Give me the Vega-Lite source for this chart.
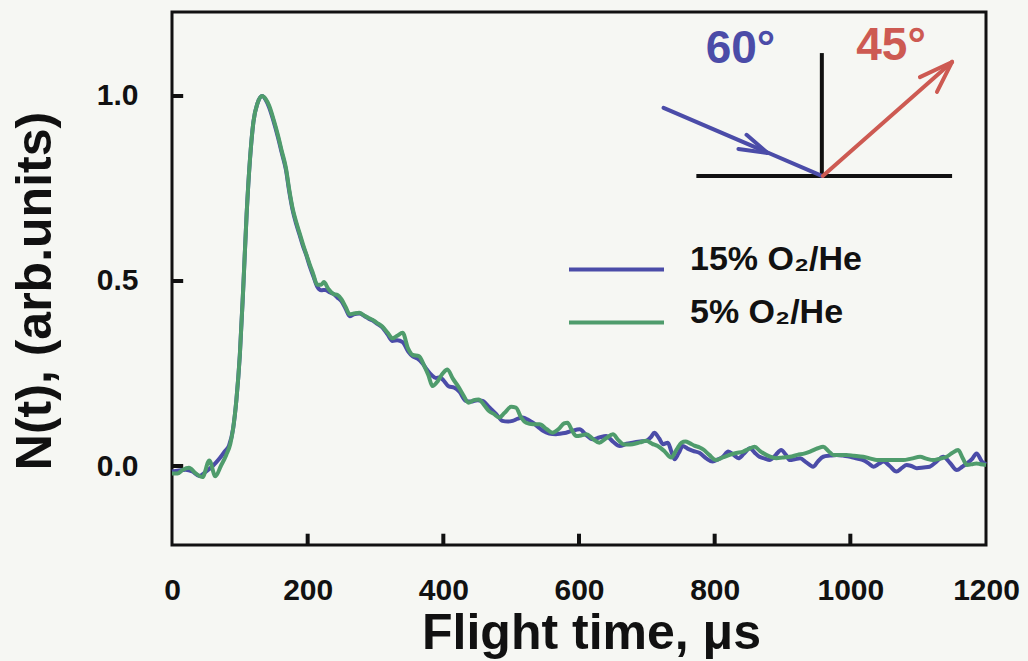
{
  "$schema": "https://vega.github.io/schema/vega-lite/v6.json",
  "autosize": "none",
  "width": 814,
  "height": 533,
  "padding": {"left": 172, "top": 12, "right": 42, "bottom": 116},
  "background": "#f6f7f3",
  "config": {
    "view": {"stroke": "#111111", "strokeWidth": 3},
    "font": "Liberation Sans",
    "axis": {"grid": false, "domain": false, "ticks": false, "labelColor": "#111111", "labelFont": "Liberation Sans", "labelFontWeight": "bold", "titleColor": "#111111", "titleFont": "Liberation Sans", "titleFontWeight": "bold"},
    "legend": {"symbolSize": 9025, "labelFontSize": 34, "labelLimit": 400, "clipHeight": 25, "rowPadding": 13}
  },
  "datasets": {
    "xticks": [{"t":200},{"t":400},{"t":600},{"t":800},{"t":1000}],
    "yticks": [{"v":0},{"v":0.5},{"v":1.0}],
    "blue": [
      {"t":0,"n":-0.015},{"t":10,"n":-0.012},{"t":20,"n":-0.01},{"t":30,"n":-0.015},{"t":40,"n":-0.027},{"t":50,"n":-0.015},{"t":60,"n":0.0},{"t":70,"n":0.02},{"t":78,"n":0.04},{"t":84,"n":0.055},{"t":90,"n":0.1},{"t":95,"n":0.18},{"t":100,"n":0.3},{"t":105,"n":0.48},{"t":110,"n":0.68},{"t":115,"n":0.83},{"t":120,"n":0.93},{"t":126,"n":0.98},{"t":133,"n":1.0},{"t":138,"n":0.99},{"t":143,"n":0.97},{"t":150,"n":0.93},{"t":156,"n":0.89},{"t":162,"n":0.845},{"t":168,"n":0.8},{"t":173,"n":0.74},{"t":178,"n":0.69},{"t":183,"n":0.655},{"t":188,"n":0.625},{"t":193,"n":0.595},{"t":198,"n":0.57},{"t":203,"n":0.54},{"t":208,"n":0.515},{"t":214,"n":0.485},{"t":220,"n":0.475},{"t":226,"n":0.476},{"t":232,"n":0.47},{"t":238,"n":0.465},{"t":244,"n":0.455},{"t":250,"n":0.445},{"t":256,"n":0.425},{"t":262,"n":0.405},{"t":268,"n":0.41},{"t":276,"n":0.412},{"t":284,"n":0.405},{"t":290,"n":0.398},{"t":296,"n":0.393},{"t":302,"n":0.385},{"t":310,"n":0.375},{"t":318,"n":0.355},{"t":325,"n":0.338},{"t":332,"n":0.34},{"t":340,"n":0.335},{"t":348,"n":0.31},{"t":355,"n":0.296},{"t":362,"n":0.29},{"t":369,"n":0.278},{"t":376,"n":0.26},{"t":383,"n":0.245},{"t":389,"n":0.238},{"t":395,"n":0.24},{"t":400,"n":0.232},{"t":408,"n":0.215},{"t":416,"n":0.212},{"t":424,"n":0.2},{"t":433,"n":0.176},{"t":441,"n":0.174},{"t":450,"n":0.178},{"t":458,"n":0.176},{"t":468,"n":0.158},{"t":478,"n":0.14},{"t":487,"n":0.122},{"t":495,"n":0.12},{"t":502,"n":0.122},{"t":510,"n":0.128},{"t":517,"n":0.131},{"t":525,"n":0.125},{"t":532,"n":0.117},{"t":540,"n":0.105},{"t":547,"n":0.095},{"t":556,"n":0.088},{"t":566,"n":0.086},{"t":574,"n":0.088},{"t":581,"n":0.09},{"t":590,"n":0.095},{"t":601,"n":0.099},{"t":610,"n":0.085},{"t":620,"n":0.072},{"t":630,"n":0.077},{"t":640,"n":0.081},{"t":650,"n":0.066},{"t":660,"n":0.054},{"t":670,"n":0.06},{"t":679,"n":0.063},{"t":690,"n":0.066},{"t":699,"n":0.068},{"t":706,"n":0.078},{"t":711,"n":0.09},{"t":718,"n":0.075},{"t":724,"n":0.059},{"t":731,"n":0.063},{"t":736,"n":0.04},{"t":741,"n":0.018},{"t":747,"n":0.035},{"t":753,"n":0.054},{"t":760,"n":0.047},{"t":768,"n":0.041},{"t":778,"n":0.035},{"t":788,"n":0.02},{"t":797,"n":0.012},{"t":805,"n":0.018},{"t":812,"n":0.025},{"t":820,"n":0.039},{"t":828,"n":0.03},{"t":835,"n":0.021},{"t":843,"n":0.033},{"t":852,"n":0.048},{"t":859,"n":0.036},{"t":866,"n":0.025},{"t":874,"n":0.02},{"t":881,"n":0.016},{"t":890,"n":0.03},{"t":898,"n":0.043},{"t":905,"n":0.03},{"t":911,"n":0.016},{"t":918,"n":0.018},{"t":926,"n":0.021},{"t":935,"n":0.01},{"t":945,"n":-0.002},{"t":952,"n":0.012},{"t":960,"n":0.025},{"t":970,"n":0.028},{"t":980,"n":0.03},{"t":990,"n":0.028},{"t":1000,"n":0.025},{"t":1010,"n":0.02},{"t":1019,"n":0.016},{"t":1027,"n":0.007},{"t":1034,"n":-0.002},{"t":1042,"n":0.006},{"t":1049,"n":0.012},{"t":1058,"n":0.0},{"t":1068,"n":-0.015},{"t":1076,"n":-0.005},{"t":1083,"n":0.003},{"t":1090,"n":0.0},{"t":1098,"n":-0.006},{"t":1108,"n":-0.004},{"t":1117,"n":-0.002},{"t":1127,"n":0.012},{"t":1137,"n":0.025},{"t":1147,"n":0.008},{"t":1157,"n":-0.011},{"t":1165,"n":-0.002},{"t":1172,"n":0.007},{"t":1180,"n":0.02},{"t":1186,"n":0.034},{"t":1194,"n":0.012},{"t":1200,"n":0.005}
    ],
    "green": [
      {"t":0,"n":-0.02},{"t":8,"n":-0.02},{"t":16,"n":-0.01},{"t":25,"n":-0.005},{"t":35,"n":-0.02},{"t":45,"n":-0.03},{"t":55,"n":0.015},{"t":64,"n":-0.028},{"t":72,"n":0.0},{"t":80,"n":0.03},{"t":86,"n":0.06},{"t":90,"n":0.1},{"t":95,"n":0.18},{"t":100,"n":0.3},{"t":105,"n":0.48},{"t":110,"n":0.68},{"t":115,"n":0.83},{"t":120,"n":0.93},{"t":126,"n":0.98},{"t":133,"n":1.0},{"t":138,"n":0.992},{"t":143,"n":0.975},{"t":150,"n":0.935},{"t":156,"n":0.895},{"t":162,"n":0.85},{"t":168,"n":0.805},{"t":173,"n":0.745},{"t":178,"n":0.695},{"t":183,"n":0.66},{"t":188,"n":0.63},{"t":193,"n":0.6},{"t":198,"n":0.572},{"t":203,"n":0.545},{"t":208,"n":0.52},{"t":214,"n":0.49},{"t":220,"n":0.49},{"t":224,"n":0.497},{"t":230,"n":0.48},{"t":238,"n":0.465},{"t":244,"n":0.462},{"t":250,"n":0.45},{"t":256,"n":0.43},{"t":262,"n":0.41},{"t":268,"n":0.412},{"t":276,"n":0.414},{"t":284,"n":0.406},{"t":290,"n":0.4},{"t":296,"n":0.395},{"t":302,"n":0.387},{"t":310,"n":0.377},{"t":318,"n":0.36},{"t":325,"n":0.345},{"t":332,"n":0.352},{"t":340,"n":0.36},{"t":348,"n":0.318},{"t":355,"n":0.3},{"t":364,"n":0.297},{"t":372,"n":0.27},{"t":378,"n":0.245},{"t":384,"n":0.216},{"t":392,"n":0.23},{"t":399,"n":0.25},{"t":406,"n":0.261},{"t":414,"n":0.236},{"t":423,"n":0.212},{"t":430,"n":0.19},{"t":437,"n":0.171},{"t":445,"n":0.178},{"t":452,"n":0.18},{"t":460,"n":0.165},{"t":467,"n":0.149},{"t":475,"n":0.14},{"t":482,"n":0.131},{"t":490,"n":0.143},{"t":500,"n":0.16},{"t":507,"n":0.158},{"t":515,"n":0.13},{"t":522,"n":0.117},{"t":532,"n":0.113},{"t":542,"n":0.113},{"t":552,"n":0.1},{"t":561,"n":0.09},{"t":570,"n":0.1},{"t":578,"n":0.115},{"t":583,"n":0.117},{"t":590,"n":0.095},{"t":596,"n":0.081},{"t":604,"n":0.083},{"t":611,"n":0.086},{"t":620,"n":0.074},{"t":630,"n":0.063},{"t":640,"n":0.075},{"t":650,"n":0.086},{"t":658,"n":0.07},{"t":665,"n":0.059},{"t":672,"n":0.058},{"t":679,"n":0.059},{"t":690,"n":0.064},{"t":699,"n":0.068},{"t":708,"n":0.06},{"t":716,"n":0.054},{"t":726,"n":0.04},{"t":736,"n":0.023},{"t":744,"n":0.045},{"t":751,"n":0.063},{"t":757,"n":0.066},{"t":763,"n":0.062},{"t":770,"n":0.055},{"t":778,"n":0.05},{"t":783,"n":0.045},{"t":792,"n":0.03},{"t":802,"n":0.016},{"t":812,"n":0.023},{"t":822,"n":0.03},{"t":832,"n":0.035},{"t":842,"n":0.039},{"t":850,"n":0.046},{"t":859,"n":0.052},{"t":867,"n":0.04},{"t":876,"n":0.03},{"t":884,"n":0.024},{"t":891,"n":0.021},{"t":900,"n":0.023},{"t":911,"n":0.025},{"t":922,"n":0.03},{"t":933,"n":0.034},{"t":942,"n":0.04},{"t":952,"n":0.048},{"t":960,"n":0.052},{"t":968,"n":0.04},{"t":975,"n":0.03},{"t":985,"n":0.03},{"t":994,"n":0.03},{"t":1005,"n":0.028},{"t":1019,"n":0.025},{"t":1030,"n":0.02},{"t":1039,"n":0.016},{"t":1048,"n":0.016},{"t":1058,"n":0.016},{"t":1068,"n":0.016},{"t":1078,"n":0.016},{"t":1090,"n":0.02},{"t":1103,"n":0.025},{"t":1112,"n":0.02},{"t":1122,"n":0.016},{"t":1132,"n":0.02},{"t":1142,"n":0.025},{"t":1150,"n":0.035},{"t":1159,"n":0.043},{"t":1166,"n":0.02},{"t":1172,"n":0.003},{"t":1180,"n":0.005},{"t":1186,"n":0.007},{"t":1192,"n":0.005},{"t":1200,"n":0.003}
    ],
    "surface": [
      {"x":958,"y":0.784,"x2":958,"y2":1.116},
      {"x":773,"y":0.784,"x2":1150,"y2":0.784}
    ],
    "incident": [
      {"x":724.7,"y":0.968,"x2":958,"y2":0.784},
      {"x":847,"y":0.895,"x2":878,"y2":0.846},
      {"x":835,"y":0.857,"x2":878,"y2":0.846}
    ],
    "reflected": [
      {"x":959.4,"y":0.784,"x2":1150,"y2":1.092},
      {"x":1102.6,"y":1.051,"x2":1150,"y2":1.092},
      {"x":1127.7,"y":1.011,"x2":1150,"y2":1.092}
    ],
    "angles": [
      {"label":"60°","x":838,"y":1.089,"beam":"incident"},
      {"label":"45°","x":1060,"y":1.097,"beam":"reflected"}
    ]
  },
  "layer": [
    {
      "mark": {"type": "rule", "color": "#111111", "strokeWidth": 4},
      "encoding": {"y": {"datum": 0, "type": "quantitative"}}
    },
    {
      "data": {"name": "xticks"},
      "mark": {"type": "rule", "color": "#111111", "strokeWidth": 4},
      "encoding": {
        "x": {"field": "t", "type": "quantitative"},
        "y": {"datum": -0.2135, "type": "quantitative"},
        "y2": {"datum": -0.183}
      }
    },
    {
      "data": {"name": "yticks"},
      "mark": {"type": "rule", "color": "#111111", "strokeWidth": 4},
      "encoding": {
        "y": {"field": "v", "type": "quantitative"},
        "x": {"datum": 0, "type": "quantitative"},
        "x2": {"datum": 16.5}
      }
    },
    {
      "data": {"name": "blue"},
      "mark": {"type": "line", "strokeWidth": 4, "interpolate": "monotone"},
      "encoding": {
        "x": {"field": "t", "type": "quantitative", "scale": {"domain": [0, 1200], "nice": false, "zero": false},
          "axis": {"values": [0,200,400,600,800,1000,1200], "format": "d", "labelPadding": 30, "labelFontSize": 30, "title": "Flight time, μs", "titleFontSize": 50, "titleX": 419, "titleY": 88, "titleBaseline": "middle", "titleAlign": "center", "labelFlush": false}},
        "y": {"field": "n", "type": "quantitative", "scale": {"domain": [-0.2135, 1.227], "nice": false, "zero": false},
          "axis": {"values": [0, 0.5, 1.0], "format": ".1f", "labelPadding": 34, "labelFontSize": 30, "title": "N(t), (arb.units)", "titleFontSize": 50, "titleX": -137, "titleY": 278.5, "titleAngle": 270, "titleBaseline": "middle", "titleAlign": "center"}},
        "color": {"datum": "15% O₂/He", "type": "nominal",
          "scale": {"domain": ["15% O₂/He", "5% O₂/He"], "range": ["#4b4ca8", "#4f9c6c"]},
          "legend": {"orient": "none", "legendX": 395, "legendY": 245, "title": null, "symbolType": "stroke", "symbolSize": 9025, "symbolStrokeWidth": 4, "clipHeight": 25, "labelFont": "Liberation Sans", "labelFontWeight": "bold", "labelFontSize": 34, "labelColor": "#111111", "labelOffset": 24, "rowPadding": 13, "padding": 0, "labelBaseline": "alphabetic"}}
      }
    },
    {
      "data": {"name": "green"},
      "mark": {"type": "line", "strokeWidth": 4, "interpolate": "monotone"},
      "encoding": {
        "x": {"field": "t", "type": "quantitative"},
        "y": {"field": "n", "type": "quantitative"},
        "color": {"datum": "5% O₂/He", "type": "nominal"}
      }
    },
    {
      "data": {"name": "surface"},
      "mark": {"type": "rule", "color": "#111111", "strokeWidth": 4},
      "encoding": {
        "x": {"field": "x", "type": "quantitative"}, "y": {"field": "y", "type": "quantitative"},
        "x2": {"field": "x2"}, "y2": {"field": "y2"}
      }
    },
    {
      "data": {"name": "incident"},
      "mark": {"type": "rule", "color": "#4b4ca8", "strokeWidth": 4, "strokeCap": "round"},
      "encoding": {
        "x": {"field": "x", "type": "quantitative"}, "y": {"field": "y", "type": "quantitative"},
        "x2": {"field": "x2"}, "y2": {"field": "y2"}
      }
    },
    {
      "data": {"name": "reflected"},
      "mark": {"type": "rule", "color": "#cd5a52", "strokeWidth": 4, "strokeCap": "round"},
      "encoding": {
        "x": {"field": "x", "type": "quantitative"}, "y": {"field": "y", "type": "quantitative"},
        "x2": {"field": "x2"}, "y2": {"field": "y2"}
      }
    },
    {
      "data": {"name": "angles"},
      "transform": [{"filter": "datum.beam === 'incident'"}],
      "mark": {"type": "text", "color": "#4b4ca8", "fontSize": 46, "fontWeight": "bold", "font": "Liberation Sans", "align": "center", "baseline": "alphabetic"},
      "encoding": {
        "x": {"field": "x", "type": "quantitative"}, "y": {"field": "y", "type": "quantitative"},
        "text": {"field": "label"}
      }
    },
    {
      "data": {"name": "angles"},
      "transform": [{"filter": "datum.beam === 'reflected'"}],
      "mark": {"type": "text", "color": "#cd5a52", "fontSize": 46, "fontWeight": "bold", "font": "Liberation Sans", "align": "center", "baseline": "alphabetic"},
      "encoding": {
        "x": {"field": "x", "type": "quantitative"}, "y": {"field": "y", "type": "quantitative"},
        "text": {"field": "label"}
      }
    }
  ]
}
